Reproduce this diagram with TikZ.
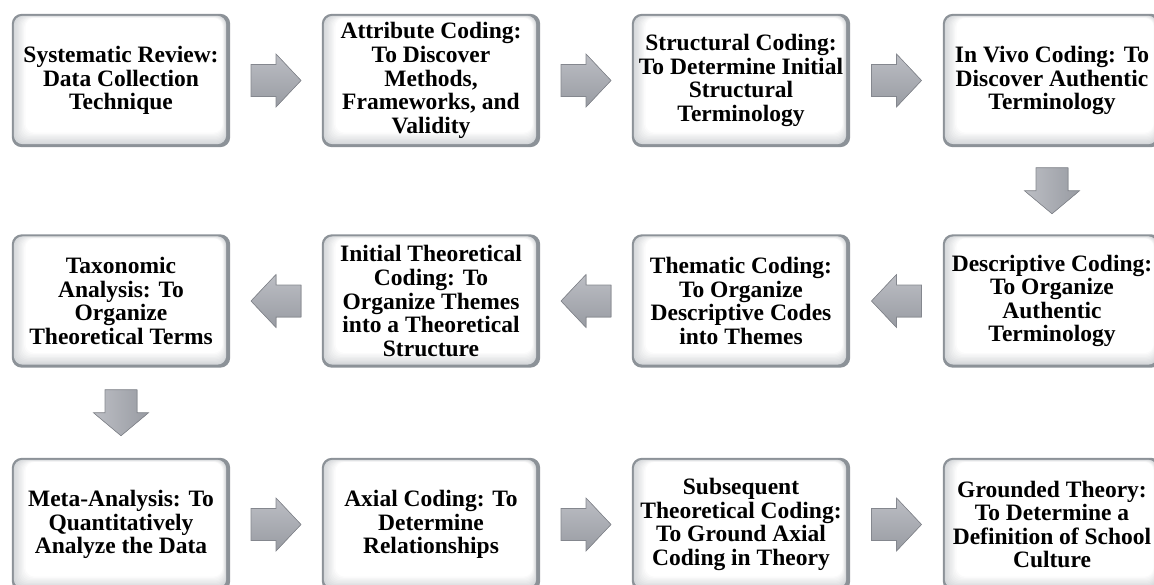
\documentclass[tikz,border=0pt]{standalone}
\usepackage{fontspec}
\setmainfont{Liberation Serif}
\usetikzlibrary{calc}
\pgfdeclarelayer{background}
\pgfsetlayers{background,main}
\definecolor{bevDark}{RGB}{140,146,152}
\definecolor{bevA}{RGB}{172,177,182}
\definecolor{arrowA}{RGB}{188,190,196}
\definecolor{arrowB}{RGB}{152,155,162}
\definecolor{arrowEdge}{RGB}{132,135,142}
\tikzset{
  stage/.style={minimum width=218pt, minimum height=133pt, inner sep=0pt, align=center,
    font=\fontsize{23.5}{23.6}\selectfont\bfseries, text=black},
  harrow/.pic={
    \fill[top color=arrowA, bottom color=arrowB, draw=arrowEdge, line width=0.6pt, line join=miter]
      (-25,-16) -- (0,-16) -- (0,-26.5) -- (25,0) -- (0,26.5) -- (0,16) -- (-25,16) -- cycle;
  },
  varrow/.pic={
    \fill[left color=arrowA, right color=arrowB, draw=arrowEdge, line width=0.6pt, line join=miter]
      (-16,-23) -- (16,-23) -- (16,0) -- (27.5,0) -- (0,23) -- (-27.5,0) -- (-16,0) -- cycle;
  },
}
\newcommand\bevelbox[1]{%
  \fill[bevDark, rounded corners=10pt] (#1.north west) rectangle (#1.south east);
  \foreach \k in {0,...,9}{%
    \pgfmathtruncatemacro\cc{50-5.56*\k}%
    \fill[bevA!\cc!white, rounded corners=9pt]
      ($(#1.north west)+(2+1.3*\k,2+0.25*\k)$) rectangle ($(#1.south east)+(-4-0.4*\k,-3-1.3*\k)$);
  }%
}
\begin{document}
\begin{tikzpicture}[x=1pt,y=-1pt]
\path[use as bounding box] (0,0) rectangle (1154,584);
% row 1
\node[stage] (a1) at (121,80.5) {Systematic Review:\\Data Collection\\Technique};
\node[stage] (a2) at (431,80.5) {Attribute Coding:\\To Discover\\Methods,\\Frameworks, and\\Validity};
\node[stage] (a3) at (741,80.5) {Structural Coding:\\To Determine Initial\\Structural\\Terminology};
\node[stage] (a4) at (1052,80.5) {In Vivo Coding: To\\Discover Authentic\\Terminology};
% row 2
\node[stage] (b4) at (1052,301) {Descriptive Coding:\\To Organize\\Authentic\\Terminology};
\node[stage] (b3) at (741,301) {Thematic Coding:\\To Organize\\Descriptive Codes\\into Themes};
\node[stage] (b2) at (431,301) {Initial Theoretical\\Coding: To\\Organize Themes\\into a Theoretical\\Structure};
\node[stage] (b1) at (121,301) {Taxonomic\\Analysis: To\\Organize\\Theoretical Terms};
% row 3
\node[stage] (c1) at (121,524.5) {Meta-Analysis: To\\Quantitatively\\Analyze the Data};
\node[stage] (c2) at (431,524.5) {Axial Coding: To\\Determine\\Relationships};
\node[stage] (c3) at (741,524.5) {Subsequent\\Theoretical Coding:\\To Ground Axial\\Coding in Theory};
\node[stage] (c4) at (1052,524.5) {Grounded Theory:\\To Determine a\\Definition of School\\Culture};
\begin{pgfonlayer}{background}
  \clip (0,0) rectangle (1154,584);
  \foreach \n in {a1,a2,a3,a4,b1,b2,b3,b4,c1,c2,c3,c4}{\bevelbox{\n}}
\end{pgfonlayer}
% arrows
\pic at ($(a1.east)!0.5!(a2.west)$) {harrow};
\pic at ($(a2.east)!0.5!(a3.west)$) {harrow};
\pic at ($(a3.east)!0.5!(a4.west)$) {harrow};
\pic at ($(a4.south)!0.5!(b4.north)$) {varrow};
\pic[xscale=-1] at ($(b4.west)!0.5!(b3.east)$) {harrow};
\pic[xscale=-1] at ($(b3.west)!0.5!(b2.east)$) {harrow};
\pic[xscale=-1] at ($(b2.west)!0.5!(b1.east)$) {harrow};
\pic at ($(b1.south)!0.5!(c1.north)$) {varrow};
\pic at ($(c1.east)!0.5!(c2.west)$) {harrow};
\pic at ($(c2.east)!0.5!(c3.west)$) {harrow};
\pic at ($(c3.east)!0.5!(c4.west)$) {harrow};
\end{tikzpicture}
\end{document}
